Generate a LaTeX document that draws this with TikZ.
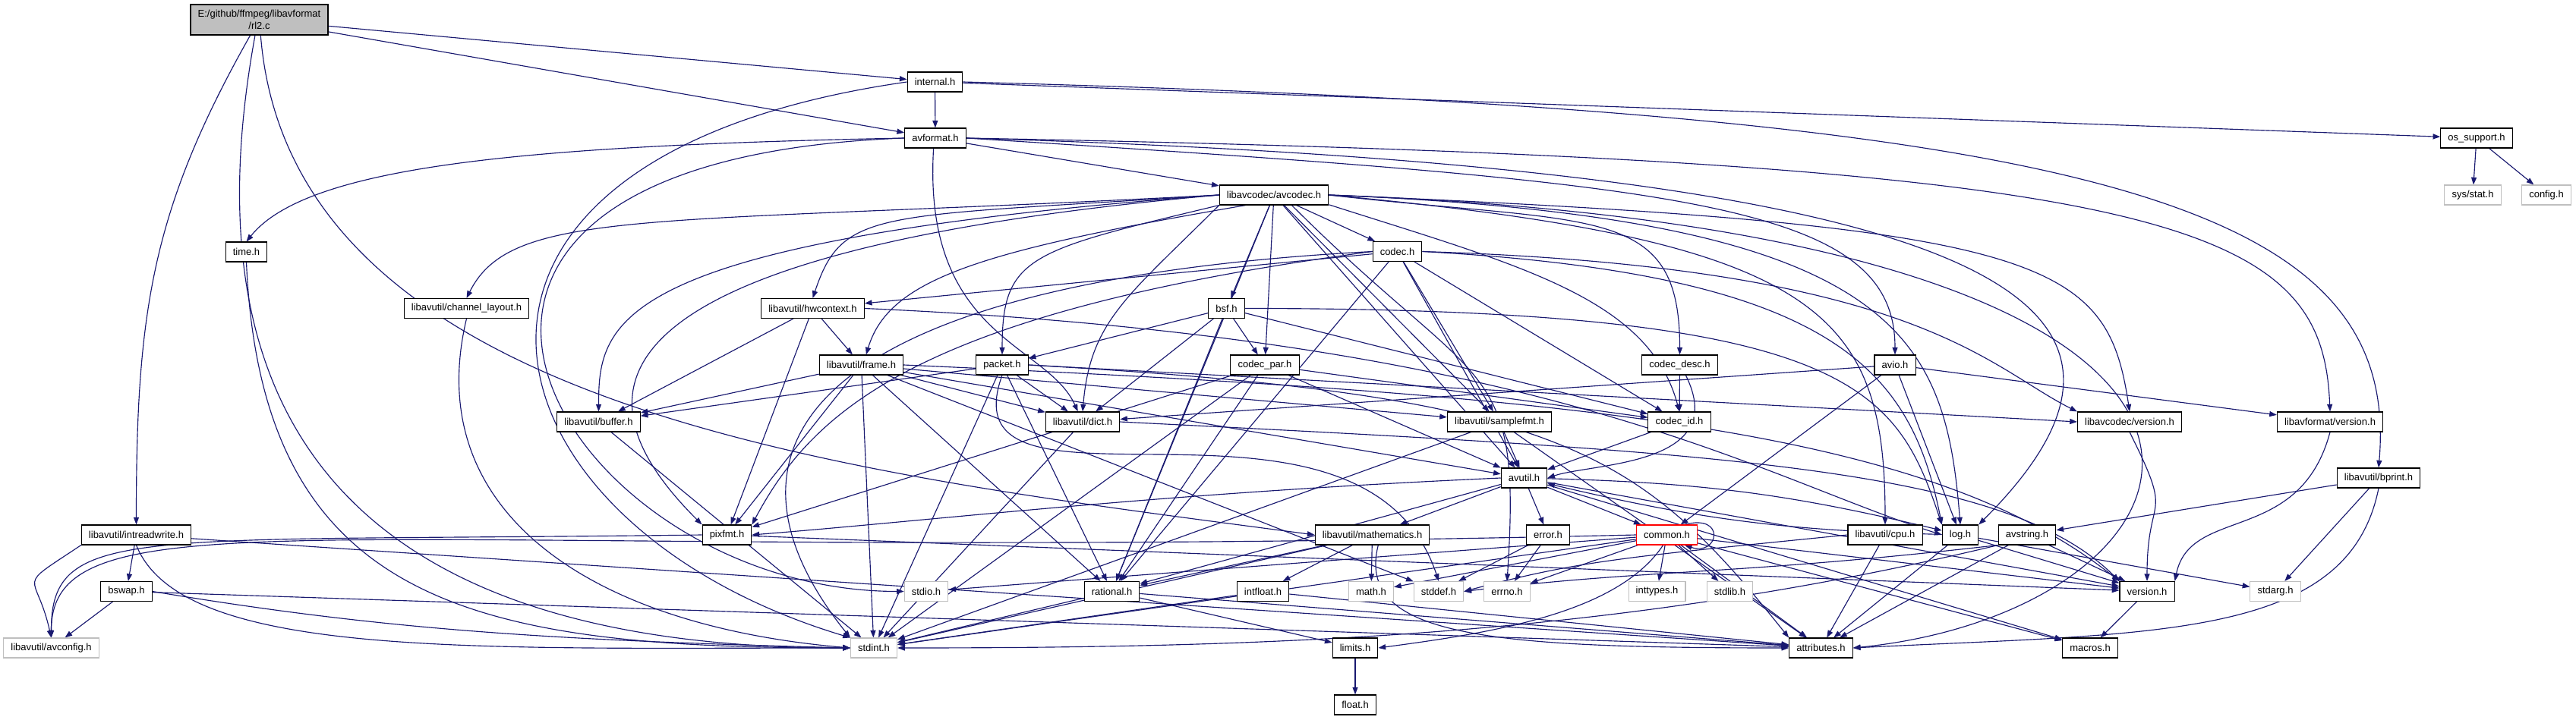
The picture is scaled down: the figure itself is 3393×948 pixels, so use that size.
\documentclass[tikz,border=0pt]{standalone}
\usepackage{fontspec}
\setmainfont{Liberation Sans}
\usetikzlibrary{arrows.meta, backgrounds}
\definecolor{edgeblue}{HTML}{191970}
\definecolor{sysgray}{HTML}{BFBFBF}

\begin{document}
\begin{tikzpicture}[
  x=0.02cm, y=0.02cm,
  filebox/.style={
    draw=black, line width=0.6pt, fill=white,
    minimum height=0.52cm, inner xsep=5.5pt, inner ysep=0pt,
    font=\fontsize{7.4}{8.8}\selectfont
  },
  sysbox/.style={filebox, draw=sysgray},
  rootbox/.style={filebox, fill=sysgray, minimum height=0.8cm, align=center},
  redbox/.style={filebox, draw=red},
  dep/.style={-{Triangle[length=5.5pt,width=4pt]}, line width=0.65pt, edgeblue}
]
\useasboundingbox (0,0) rectangle (3393,948);

% Files
\node[rootbox] (rl2) at (341.5,922) {E:/github/ffmpeg/libavformat\\/rl2.c};
\node[filebox] (internal) at (1231.5,840) {internal.h};
\node[filebox] (avformat) at (1232,766) {avformat.h};
\node[filebox] (ossup) at (3262,766) {os\_support.h};
\node[sysbox] (sysstat) at (3257,691) {sys/stat.h};
\node[sysbox] (config) at (3354,691) {config.h};
\node[filebox] (avcodec) at (1678,691) {libavcodec/avcodec.h};
\node[filebox] (timeh) at (324.5,616) {time.h};
\node[filebox] (codech) at (1840.5,616.5) {codec.h};
\node[filebox] (chlayout) at (614.5,541.5) {libavutil/channel\_layout.h};
\node[filebox] (hwctx) at (1070.5,541.5) {libavutil/hwcontext.h};
\node[filebox] (bsf) at (1615.5,541.5) {bsf.h};
\node[filebox] (frame) at (1134.5,467) {libavutil/frame.h};
\node[filebox] (packet) at (1320,467) {packet.h};
\node[filebox] (codecpar) at (1666,467) {codec\_par.h};
\node[filebox] (codecdesc) at (2212.5,467) {codec\_desc.h};
\node[filebox] (avio) at (2496,467) {avio.h};
\node[filebox] (buffer) at (788.5,392) {libavutil/buffer.h};
\node[filebox] (dict) at (1426,392) {libavutil/dict.h};
\node[filebox] (samplefmt) at (1975,392) {libavutil/samplefmt.h};
\node[filebox] (codecid) at (2212,392) {codec\_id.h};
\node[filebox] (lavcver) at (2805,392) {libavcodec/version.h};
\node[filebox] (lavfver) at (3069,392) {libavformat/version.h};
\node[filebox] (avutil) at (2007.5,318) {avutil.h};
\node[filebox] (bprint) at (3133,318) {libavutil/bprint.h};
\node[filebox] (intrw) at (179.5,243) {libavutil/intreadwrite.h};
\node[filebox] (pixfmt) at (957.5,243) {pixfmt.h};
\node[filebox] (mathematics) at (1807.5,243) {libavutil/mathematics.h};
\node[filebox] (error) at (2039,243) {error.h};
\node[redbox] (common) at (2195.5,243) {common.h};
\node[filebox] (cpu) at (2483,243) {libavutil/cpu.h};
\node[filebox] (log) at (2582,243) {log.h};
\node[filebox] (avstring) at (2670,243) {avstring.h};
\node[filebox] (bswap) at (166.5,168.5) {bswap.h};
\node[sysbox] (stdio) at (1220,168.5) {stdio.h};
\node[filebox] (rational) at (1464.5,168.5) {rational.h};
\node[filebox] (intfloat) at (1663.5,168.5) {intfloat.h};
\node[sysbox] (math) at (1806,168.5) {math.h};
\node[sysbox] (stddef) at (1895,168.5) {stddef.h};
\node[sysbox] (errno) at (1985,168.5) {errno.h};
\node[sysbox] (inttypes) at (2182.5,168.5) {inttypes.h};
\node[sysbox] (stdlib) at (2278.5,168.5) {stdlib.h};
\node[filebox] (version) at (2828,168.5) {version.h};
\node[sysbox] (stdarg) at (2997,168.5) {stdarg.h};
\node[sysbox] (avconfig) at (67.5,94) {libavutil/avconfig.h};
\node[sysbox] (stdint) at (1151,94) {stdint.h};
\node[filebox] (limits) at (1785,94) {limits.h};
\node[filebox] (attributes) at (2398.5,94) {attributes.h};
\node[filebox] (macros) at (2753,94) {macros.h};
\node[filebox] (float) at (1785,19) {float.h};

\begin{scope}[on background layer]
\fill[white] (0,0) rectangle (3393,948);

% rl2.c
\draw[dep] (rl2) -- (internal);
\draw[dep] (rl2) -- (avformat);
\draw[dep] (rl2.-120) .. controls +(-130,-230) and +(0,280) .. (intrw.north);
\draw[dep] (rl2.-105) .. controls +(-110,-600) and +(-550,0) .. (stdint.west);
\draw[dep] (rl2.-85) .. controls +(40,-500) and +(-600,80) .. (mathematics.west);

% internal.h
\draw[dep] (internal) -- (avformat);
\draw[dep] (internal.west) .. controls +(-700,-100) and +(-500,150) .. (stdint.north west);
\draw[dep] (internal) -- (ossup);
\draw[dep] (internal.east) .. controls +(1500,-40) and +(30,350) .. (bprint.north);

% avformat.h
\draw[dep] (avformat.west) .. controls +(-500,-10) and +(80,100) .. (timeh.north);
\draw[dep] (avformat.west) .. controls +(-800,-30) and +(-450,0) .. (stdio.west);
\draw[dep] (avformat) -- (avcodec);
\draw[dep] (avformat.-100) .. controls +(-15,-250) and +(-40,90) .. (dict.115);
\draw[dep] (avformat.east) .. controls +(1350,-40) and +(300,300) .. (log.north east);
\draw[dep] (avformat.east) .. controls +(950,-60) and +(0,200) .. (avio.north);
\draw[dep] (avformat.east) .. controls +(1600,-30) and +(-10,250) .. (lavfver.north);

% libavcodec/avcodec.h
\draw[dep] (avcodec.west) .. controls +(-750,-40) and +(60,120) .. (chlayout.north);
\draw[dep] (avcodec.west) .. controls +(-450,-30) and +(40,120) .. (hwctx.north);
\draw[dep] (avcodec.200) .. controls +(-350,-60) and +(30,100) .. (frame.65);
\draw[dep] (avcodec.west) .. controls +(-800,-60) and +(0,120) .. (buffer.north);
\draw[dep] (avcodec.west) .. controls +(-900,-80) and +(-150,150) .. (pixfmt.north west);
\draw[dep] (avcodec.south west) .. controls +(-120,-120) and +(10,120) .. (dict.north);
\draw[dep] (avcodec.south west) .. controls +(-250,-60) and +(0,130) .. (packet.north);
\draw[dep] (avcodec) -- (codecpar);
\draw[dep] (avcodec) -- (bsf);
\draw[dep] (avcodec) -- (codech);
\draw[dep] (avcodec) -- (rational);
\draw[dep] (avcodec) -- (avutil);
\draw[dep] (avcodec) -- (samplefmt);
\draw[dep] (avcodec.east) .. controls +(350,-40) and +(0,200) .. (codecdesc.north);
\draw[dep] (avcodec.-10) .. controls +(250,-80) and +(-40,150) .. (codecid.north);
\draw[dep] (avcodec.east) .. controls +(750,-30) and +(-20,250) .. (log.north);
\draw[dep] (avcodec.east) .. controls +(650,-60) and +(0,280) .. (cpu.north);
\draw[dep] (avcodec.east) .. controls +(950,-40) and +(-30,200) .. (lavcver.north);
\draw[dep] (avcodec.east) .. controls +(1400,-50) and +(500,50) .. (attributes.east);
\draw[dep] (avcodec.-30) .. controls +(250,-250) and +(20,300) .. (errno.north);

% codec.h
\draw[dep] (codech.west) .. controls +(-750,-40) and +(-200,250) .. (stdint.north west);
\draw[dep] (codech) -- (hwctx);
\draw[dep] (codech.west) .. controls +(-600,-80) and +(80,150) .. (pixfmt.north east);
\draw[dep] (codech) -- (rational);
\draw[dep] (codech) -- (avutil);
\draw[dep] (codech) -- (samplefmt);
\draw[dep] (codech) -- (codecid);
\draw[dep] (codech.east) .. controls +(550,-30) and +(-40,200) .. (log.north west);
\draw[dep] (codech.east) .. controls +(650,-20) and +(-120,60) .. (lavcver.north west);

% bsf.h
\draw[dep] (bsf) -- (packet);
\draw[dep] (bsf) -- (codecpar);
\draw[dep] (bsf) -- (dict);
\draw[dep] (bsf) -- (rational);
\draw[dep] (bsf) -- (codecid);
\draw[dep] (bsf.east) .. controls +(800,0) and +(-60,180) .. (log.north west);

% codec_par.h, codec_desc.h, codec_id.h
\draw[dep] (codecpar) -- (stdint);
\draw[dep] (codecpar) -- (avutil);
\draw[dep] (codecpar) -- (rational);
\draw[dep] (codecpar) -- (pixfmt);
\draw[dep] (codecpar) -- (codecid);
\draw[dep] (codecdesc) -- (codecid);
\draw[dep] (codecdesc.-60) .. controls +(60,-120) and +(60,20) .. (avutil.east);
\draw[dep] (codecid) -- (avutil);

% packet.h
\draw[dep] (packet) -- (dict);
\draw[dep] (packet) -- (buffer);
\draw[dep] (packet) -- (stdint);
\draw[dep] (packet) -- (rational);
\draw[dep] (packet.south) .. controls +(-80,-220) and +(-100,300) .. (stddef.north);
\draw[dep] (packet.east) .. controls +(700,-40) and +(-200,250) .. (attributes.north west);
\draw[dep] (packet.east) -- (lavcver.west);

% libavutil/frame.h
\draw[dep] (frame) -- (buffer);
\draw[dep] (frame) -- (pixfmt);
\draw[dep] (frame) -- (stdint);
\draw[dep] (frame) -- (dict);
\draw[dep] (frame) -- (rational);
\draw[dep] (frame) -- (samplefmt);
\draw[dep] (frame) -- (avutil);
\draw[dep] (frame) -- (stddef);
\draw[dep] (frame.east) .. controls +(900,-40) and +(-250,200) .. (version.north west);

% libavutil/hwcontext.h
\draw[dep] (hwctx) -- (frame);
\draw[dep] (hwctx) -- (buffer);
\draw[dep] (hwctx) -- (pixfmt);
\draw[dep] (hwctx.east) .. controls +(900,-40) and +(-250,80) .. (log.west);

% buffer.h, dict.h, samplefmt.h, time.h, channel_layout.h
\draw[dep] (chlayout.south) .. controls +(-60,-250) and +(-350,30) .. (stdint.west);
\draw[dep] (timeh.south) .. controls +(20,-450) and +(-500,0) .. (stdint.west);
\draw[dep] (buffer) -- (stdint);
\draw[dep] (dict) -- (stdint);
\draw[dep] (dict.east) .. controls +(800,-40) and +(-150,150) .. (version.north west);
\draw[dep] (samplefmt) -- (avutil);
\draw[dep] (samplefmt) -- (stdint);
\draw[dep] (samplefmt) -- (attributes);

% libavutil/avutil.h
\draw[dep] (avutil) -- (mathematics);
\draw[dep] (avutil) -- (error);
\draw[dep] (avutil) -- (common);
\draw[dep] (avutil) -- (rational);
\draw[dep] (avutil.west) .. controls +(-450,-20) and +(250,20) .. (pixfmt.east);
\draw[dep] (avutil) to[bend left=6] (log);
\draw[dep] (avutil) -- (version);
\draw[dep] (avutil) -- (macros);

% pixfmt.h, mathematics.h, rational.h, intfloat.h, error.h
\draw[dep] (pixfmt.west) .. controls +(-750,-10) and +(0,150) .. (avconfig.north);
\draw[dep] (pixfmt) -- (version);
\draw[dep] (mathematics) -- (stdint);
\draw[dep] (mathematics) -- (math);
\draw[dep] (mathematics) -- (rational);
\draw[dep] (mathematics) -- (intfloat);
\draw[dep] (mathematics.-60) .. controls +(-30,-120) and +(-400,0) .. (attributes.west);
\draw[dep] (rational) -- (stdint);
\draw[dep] (rational) -- (limits);
\draw[dep] (rational) -- (attributes);
\draw[dep] (intfloat) -- (stdint);
\draw[dep] (intfloat) -- (attributes);
\draw[dep] (limits) -- (float);
\draw[dep] (error) -- (errno);
\draw[dep] (error) -- (stddef);

% common.h
\draw[dep] (common.30) .. controls +(55,15) and +(45,-15) .. (common.-30);
\draw[dep] (common) -- (errno);
\draw[dep] (common) -- (inttypes);
\draw[dep] (common) -- (stdlib);
\draw[dep] (common.-110) .. controls +(-60,-90) and +(150,20) .. (limits.east);
\draw[dep] (common) -- (stdint);
\draw[dep] (common) -- (stdio);
\draw[dep] (common) -- (math);
\draw[dep] (common) -- (attributes);
\draw[dep] (common) -- (macros);
\draw[dep] (common) -- (version);
\draw[dep] (common.west) .. controls +(-1700,-40) and +(0,200) .. (avconfig.north);

% log.h, cpu.h, avstring.h, bprint.h
\draw[dep] (log) to[bend left=6] (avutil);
\draw[dep] (log) -- (stdarg);
\draw[dep] (log) -- (version);
\draw[dep] (log) -- (attributes);
\draw[dep] (cpu) -- (attributes);
\draw[dep] (cpu.west) .. controls +(-300,-30) and +(150,40) .. (stddef.east);
\draw[dep] (avstring.south west) .. controls +(-350,-40) and +(250,30) .. (stddef.east);
\draw[dep] (avstring.south west) .. controls +(-500,-120) and +(500,0) .. (stdint.east);
\draw[dep] (avstring) -- (attributes);
\draw[dep] (avstring) -- (version);
\draw[dep] (bprint) -- (avstring);
\draw[dep] (bprint) -- (stdarg);
\draw[dep] (bprint.south) .. controls +(-40,-200) and +(400,20) .. (attributes.east);

% avio.h, version files, os_support.h
\draw[dep] (avio) -- (dict);
\draw[dep] (avio) -- (common);
\draw[dep] (avio) -- (log);
\draw[dep] (avio) -- (lavfver);
\draw[dep] (lavcver.south) .. controls +(60,-120) and +(0,120) .. (version.north);
\draw[dep] (lavfver.south) .. controls +(-40,-150) and +(20,100) .. (version.north east);
\draw[dep] (version) -- (macros);
\draw[dep] (ossup) -- (sysstat);
\draw[dep] (ossup) -- (config);

% libavutil/intreadwrite.h, bswap.h
\draw[dep] (intrw.south west) .. controls +(-90,-60) and +(-20,90) .. (avconfig.north);
\draw[dep] (intrw) -- (bswap);
\draw[dep] (intrw.south) .. controls +(60,-150) and +(-500,0) .. (stdint.west);
\draw[dep] (intrw) -- (attributes);
\draw[dep] (bswap) -- (avconfig);
\draw[dep] (bswap.east) .. controls +(300,-50) and +(-400,10) .. (stdint.west);
\draw[dep] (bswap) -- (attributes);
\end{scope}

\end{tikzpicture}
\end{document}
